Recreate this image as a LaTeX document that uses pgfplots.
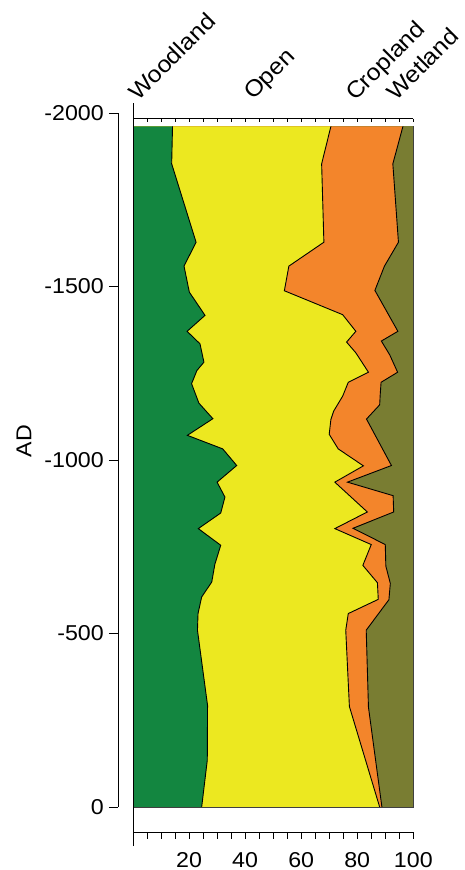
\documentclass[border=0pt]{standalone}
\usepackage{pgfplots}
\pgfplotsset{compat=1.18}
\usepackage{pgfplotstable}
\usepackage{fontspec}
\setmainfont{Liberation Sans}[FakeStretch=1.08]
\definecolor{wood}{RGB}{19,134,64}
\definecolor{openc}{RGB}{236,232,32}
\definecolor{crop}{RGB}{243,133,43}
\definecolor{wet}{RGB}{121,125,50}
\newcommand{\lblfont}{\fontsize{21.5bp}{25bp}\selectfont}
\newcommand{\catfont}{\fontsize{23bp}{26bp}\selectfont}

% cumulative boundary: Woodland
\pgfplotstableread{
v ad
14.1 -1963
13.8 -1855
22.5 -1629
18.2 -1560
20.1 -1485
25.7 -1418
19.3 -1372
23.9 -1336
25.3 -1283
22.8 -1259
20.9 -1221
23.5 -1165
28.5 -1120
19.4 -1072
32.0 -1033
37.0 -985
30.0 -937
32.8 -894
31.3 -848
23.3 -803
31.3 -755
29.2 -700
28.1 -649
24.5 -606
23.2 -558
23.0 -510
26.6 -293
26.5 -135
24.5 0
}\bOne
% Woodland + Open
\pgfplotstableread{
v ad
70.6 -1963
67.3 -1855
68.1 -1629
55.6 -1560
54.0 -1489
74.8 -1420
79.5 -1372
76.2 -1341
79.5 -1310
84.0 -1254
76.8 -1225
74.8 -1185
71.6 -1142
70.6 -1118
70.0 -1075
73.2 -1033
82.2 -984
72.0 -937
83.6 -851
72.0 -803
85.0 -757
82.0 -697
87.2 -647
87.5 -599
76.8 -558
75.9 -510
77.2 -290
88.0 0
}\bTwo
% Woodland + Open + Cropland
\pgfplotstableread{
v ad
96.3 -1963
92.7 -1855
94.7 -1629
89.7 -1560
86.3 -1490
94.5 -1372
88.6 -1344
91.6 -1304
94.4 -1254
88.5 -1225
88.2 -1190
88.0 -1160
83.3 -1119
92.2 -985
76.5 -937
92.8 -898
93.0 -851
78.5 -804
90.0 -757
90.2 -695
91.8 -645
91.3 -598
83.2 -510
84.0 -288
88.8 0
}\bThree

\begin{document}
\begin{tikzpicture}[font=\lblfont]
% data axis
\begin{axis}[at={(0,0)}, anchor=south west, scale only axis,
  width=280.3bp, height=713.4bp,
  xmin=0, xmax=100, ymin=-1985.5, ymax=72, y dir=reverse,
  hide axis, clip=false]
\addplot[fill=wet, draw=none] coordinates {(0,-1963) (100,-1963) (100,0) (0,0)} -- cycle;
\addplot[fill=crop, draw=none] table[x=v,y=ad]{\bThree} -- (axis cs:0,0) -- (axis cs:0,-1963) -- cycle;
\addplot[fill=openc, draw=none] table[x=v,y=ad]{\bTwo} -- (axis cs:0,0) -- (axis cs:0,-1963) -- cycle;
\addplot[fill=wood, draw=none] table[x=v,y=ad]{\bOne} -- (axis cs:0,0) -- (axis cs:0,-1963) -- cycle;
\addplot[black, line width=0.9bp] table[x=v,y=ad]{\bOne};
\addplot[black, line width=0.9bp] table[x=v,y=ad]{\bTwo};
\addplot[black, line width=0.9bp] table[x=v,y=ad]{\bThree};
\draw[black!75, line width=0.8bp] (axis cs:0,0) -- (axis cs:100,0) -- (axis cs:100,-1963);
\end{axis}
% top axis
\begin{axis}[at={(0,0)}, anchor=south west, scale only axis,
  width=280.3bp, height=713.4bp,
  xmin=0, xmax=100, ymin=0, ymax=1,
  axis x line*=top, axis y line=none,
  xtick={0,5,...,100}, xticklabels={},
  tick align=inside, major tick length=3.5bp,
  axis line style={line width=0.9bp}, tick style={line width=0.9bp, black}]
\end{axis}
% bottom axis
\begin{axis}[at={(0,0)}, anchor=south west, scale only axis,
  width=280.3bp, height=713.4bp,
  xmin=0, xmax=100, ymin=0, ymax=1,
  axis x line*=bottom, axis y line=none,
  xtick={0,20,...,100}, xticklabels={,20,40,60,80,100},
  minor xtick={5,10,...,95},
  tick align=outside, major tick length=7bp, minor tick length=7bp,
  xticklabel style={font=\lblfont, anchor=north, inner sep=0pt, yshift=-13bp},
  axis line style={line width=0.9bp}, tick style={line width=0.9bp, black}]
\end{axis}
% left y axis
\begin{axis}[at={(-15bp,25bp)}, anchor=south west, scale only axis,
  width=10bp, height=694bp,
  xmin=0, xmax=1, ymin=-2000, ymax=0, y dir=reverse,
  axis y line*=left, axis x line=none,
  ytick={-2000,-1500,-1000,-500,0},
  yticklabels={-2000,-1500,-1000,-500,0},
  tick align=outside, major tick length=9bp,
  yticklabel style={font=\lblfont, anchor=east, inner sep=0pt, xshift=-5bp},
  axis line style={line width=0.9bp}, tick style={line width=0.9bp, black}]
\end{axis}
\draw[line width=0.9bp] (0,-14bp) -- (0,729bp);
\node[rotate=90] at (-109bp,391bp) {AD};
\node[font=\catfont, rotate=45, anchor=base west, inner sep=0pt] at (5bp,730bp) {Woodland};
\node[font=\catfont, rotate=45, anchor=base west, inner sep=0pt] at (120bp,731bp) {Open};
\node[font=\catfont, rotate=45, anchor=base west, inner sep=0pt] at (222bp,730bp) {Cropland};
\node[font=\catfont, rotate=45, anchor=base west, inner sep=0pt] at (263bp,730bp) {Wetland};
\pgfresetboundingbox
\path[use as bounding box] (-133bp,-38bp) rectangle (332bp,832bp);
\end{tikzpicture}
\end{document}
